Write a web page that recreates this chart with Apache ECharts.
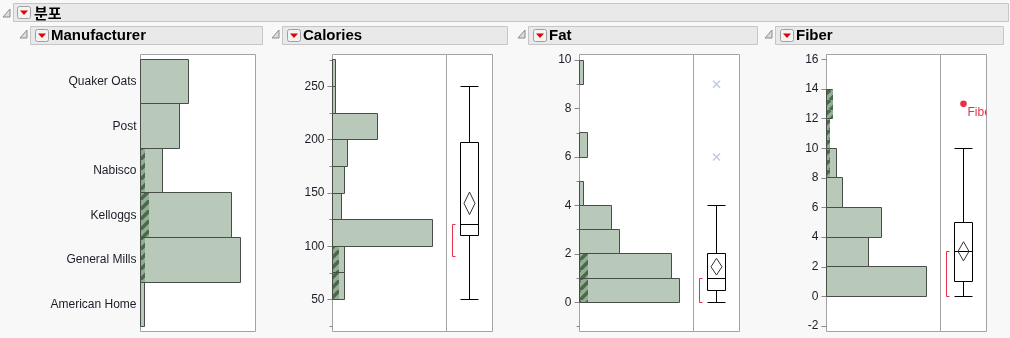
<!DOCTYPE html>
<html><head><meta charset="utf-8">
<script src="https://cdn.jsdelivr.net/npm/echarts@6/dist/echarts.min.js"></script>
<style>html,body{margin:0;padding:0;background:#f8f8f8;}#c{width:1010px;height:338px;}</style>
</head><body><div id="c"></div><script>
// ---------------- data ----------------
const mfrCategories = ['American Home', 'General Mills', 'Kelloggs', 'Nabisco', 'Post', 'Quaker Oats'];
const mfrCounts = [1, 23, 21, 5, 9, 11];
const mfrSelected = [0, 1, 2, 1, 0, 0];

const calBinEdges = [50, 75, 100, 125, 150, 175, 200, 225, 250, 275];
const calCounts = [4, 4, 33, 3, 4, 5, 15, 1, 1];
const calSelected = [2, 2, 0, 0, 0, 0, 0, 0, 0];
const calTicks = [50, 100, 150, 200, 250];
const calMinorTicks = [25, 75, 125, 175, 225, 275];
const calBox = [50, 110, 120, 197, 250];          // min, q1, median, q3, max
const calMeanDiamond = [129.7, 140.3, 150.9];     // lower, mean, upper
const calShortestHalf = [90, 120];
const calOutliers = [];

const fatBinEdges = [0, 1, 2, 3, 4, 5, 6, 7, 8, 9, 10];
const fatCounts = [25, 23, 10, 8, 1, 0, 2, 0, 0, 1];
const fatSelected = [2, 2, 0, 0, 0, 0, 0, 0, 0, 0];
const fatTicks = [0, 2, 4, 6, 8, 10];
const fatMinorTicks = [-1, 1, 3, 5, 7, 9];
const fatBox = [0, 0.5, 1, 2, 4];
const fatMeanDiamond = [1.13, 1.47, 1.82];
const fatShortestHalf = [0, 1];
const fatOutliers = [6, 9];

const fiberBinEdges = [0, 2, 4, 6, 8, 10, 12, 14];
const fiberCounts = [31, 13, 17, 5, 3, 1, 2];
const fiberSelected = [0, 0, 0, 0, 1, 1, 2];
const fiberTicks = [-2, 0, 2, 4, 6, 8, 10, 12, 14, 16];
const fiberBox = [0, 1, 3, 5, 10];
const fiberMeanDiamond = [2.40, 3.04, 3.69];
const fiberShortestHalf = [0, 3];
const fiberOutliers = [13];
const fiberOutlierLabel = 'Fiber';

const mainTitle = '분포';
const panelTitles = ['Manufacturer', 'Calories', 'Fat', 'Fiber'];

// ---------------- style / layout ----------------
const TOP = 54.5, H = 277;
const BAR_FILL = '#b9c9b9', BAR_STROKE = '#474e47', RED = '#e8304a';
const FONT = '"Liberation Sans", Arial, sans-serif';

const stripe = (function () {
  const n = 10;
  const c = document.createElement('canvas');
  c.width = n; c.height = n;
  const g = c.getContext('2d');
  g.fillStyle = '#94ae94'; g.fillRect(0, 0, n, n);
  g.strokeStyle = '#4b694b'; g.lineWidth = 3.6;
  for (const k of [-n, 0, n]) { g.beginPath(); g.moveTo(k, n); g.lineTo(k + n, 0); g.stroke(); }
  return c;
})();

const grids = [
  { left: 140.5, top: TOP, width: 115, height: H },  // 0 mfr
  { left: 332.5, top: TOP, width: 114, height: H },  // 1 cal hist
  { left: 446.5, top: TOP, width: 46, height: H },   // 2 cal box
  { left: 579.5, top: TOP, width: 114, height: H },  // 3 fat hist
  { left: 693.5, top: TOP, width: 46, height: H },   // 4 fat box
  { left: 826.5, top: TOP, width: 114, height: H },  // 5 fiber hist
  { left: 940.5, top: TOP, width: 46, height: H }    // 6 fiber box
].map(g => Object.assign({ show: true, backgroundColor: '#fff', borderColor: '#a3a3a3', borderWidth: 1, containLabel: false }, g));

const BARMAX = 100; // pixel length of the largest bar in each histogram
function xMax(counts, gi) { return Math.max.apply(null, counts) * grids[gi].width / BARMAX; }
const xAxes = [
  { gridIndex: 0, max: xMax(mfrCounts, 0) },
  { gridIndex: 1, max: xMax(calCounts, 1) },
  { gridIndex: 2, max: 1 },
  { gridIndex: 3, max: xMax(fatCounts, 3) },
  { gridIndex: 4, max: 1 },
  { gridIndex: 5, max: xMax(fiberCounts, 5) },
  { gridIndex: 6, max: 1 }
].map(a => Object.assign({ type: 'value', min: 0, show: false, splitLine: { show: false } }, a));

function yAx(gi, min, max, extra) {
  return Object.assign({
    type: 'value', gridIndex: gi, min, max, position: 'left',
    axisLine: { show: false }, splitLine: { show: false },
    axisTick: { show: false }, axisLabel: { show: false }
  }, extra || {});
}
const labelStyle = { show: true, fontFamily: FONT, fontSize: 12, color: '#1c1c28', margin: 8 };
const CAL = [20, 280], FAT = [-1.20, 10.23], FIB = [-2.37, 16.33];
const yAxes = [
  yAx(0, -0.612, 5.612, { axisLabel: Object.assign({}, labelStyle, { margin: 4, customValues: mfrCategories.map((_, i) => i), formatter: v => mfrCategories[Math.round(v)] }) }),
  yAx(1, CAL[0], CAL[1], { axisTick: { show: true, length: 5, customValues: calTicks, lineStyle: { color: '#888' } }, axisLabel: Object.assign({}, labelStyle, { customValues: calTicks }) }),
  yAx(1, CAL[0], CAL[1], { axisTick: { show: true, length: 3, customValues: calMinorTicks, lineStyle: { color: '#888' } } }),
  yAx(2, CAL[0], CAL[1], { show: false }),
  yAx(3, FAT[0], FAT[1], { axisTick: { show: true, length: 5, customValues: fatTicks, lineStyle: { color: '#888' } }, axisLabel: Object.assign({}, labelStyle, { customValues: fatTicks }) }),
  yAx(3, FAT[0], FAT[1], { axisTick: { show: true, length: 3, customValues: fatMinorTicks, lineStyle: { color: '#888' } } }),
  yAx(4, FAT[0], FAT[1], { show: false }),
  yAx(5, FIB[0], FIB[1], { axisTick: { show: true, length: 5, customValues: fiberTicks, lineStyle: { color: '#888' } }, axisLabel: Object.assign({}, labelStyle, { customValues: fiberTicks }) }),
  yAx(6, FIB[0], FIB[1], { show: false })
];

const px = v => Math.floor(v) + 0.5;

function barGroup(L, T, R, B, sel) {
  const ch = [{ type: 'rect', shape: { x: L, y: T, width: R - L, height: B - T }, style: { fill: BAR_FILL, stroke: BAR_STROKE, lineWidth: 1 } }];
  if (sel != null) {
    ch.push({ type: 'rect', shape: { x: L + 0.5, y: T + 0.5, width: Math.max(1, Math.round(sel) - (L + 0.5)), height: B - T - 1 }, style: { fill: { image: stripe, repeat: 'repeat' } } });
  }
  return { type: 'group', children: ch };
}

function mfrSeries() {
  return {
    type: 'custom', xAxisIndex: 0, yAxisIndex: 0,
    data: mfrCounts.map((c, i) => [c, i, mfrSelected[i]]),
    encode: { x: 0, y: 1 },
    renderItem(params, api) {
      const c = api.value(0), i = api.value(1), s = api.value(2);
      const p0 = api.coord([0, i + 0.5]), p1 = api.coord([c, i - 0.5]);
      return barGroup(px(p0[0]), px(p0[1]), px(p1[0]), px(p1[1]), s ? api.coord([s, 0])[0] : null);
    }
  };
}

function histSeries(xi, yi, edges, counts, selected) {
  return {
    type: 'custom', xAxisIndex: xi, yAxisIndex: yi,
    data: counts.map((c, i) => [c, edges[i], edges[i + 1], selected[i]]),
    encode: { x: 0, y: [1, 2] },
    renderItem(params, api) {
      const c = api.value(0); if (!c) return;
      const s = api.value(3);
      const p0 = api.coord([0, api.value(2)]), p1 = api.coord([c, api.value(1)]);
      return barGroup(px(p0[0]), px(p0[1]), px(p1[0]), px(p1[1]), s ? api.coord([s, 0])[0] : null);
    }
  };
}

function boxSeries(xi, yi, box, diamond, shortest, outliers, outlierKind, outlierLabel) {
  return {
    type: 'custom', xAxisIndex: xi, yAxisIndex: yi,
    data: [[0.5, box[2]]],
    encode: { x: 0, y: 1 },
    renderItem(params, api) {
      const cs = params.coordSys;
      const cx = px(api.coord([0.5, 0])[0]);
      const Y = v => px(api.coord([0.5, v])[1]);
      const Yr = v => api.coord([0.5, v])[1];
      const hw = 9;
      const ln = (x1, y1, x2, y2, color, w) => ({ type: 'line', shape: { x1, y1, x2, y2 }, style: { stroke: color || '#000', lineWidth: w || 1 } });
      const [mn, q1, md, q3, mx] = box;
      const ch = [];
      ch.push(ln(cx, Y(mx), cx, Y(q3)));
      ch.push(ln(cx, Y(q1), cx, Y(mn)));
      ch.push(ln(cx - hw, Y(mx), cx + hw, Y(mx)));
      ch.push(ln(cx - hw, Y(mn), cx + hw, Y(mn)));
      ch.push({ type: 'rect', shape: { x: cx - hw, y: Y(q3), width: 2 * hw, height: Y(q1) - Y(q3) }, style: { fill: '#fff', stroke: '#000', lineWidth: 1 } });
      ch.push(ln(cx - hw, Y(md), cx + hw, Y(md)));
      const dt = Yr(diamond[2]), dm = Yr(diamond[1]), db = Yr(diamond[0]);
      ch.push({ type: 'polygon', shape: { points: [[cx, dt], [cx + 5.5, dm], [cx, db], [cx - 5.5, dm]] }, style: { fill: 'none', stroke: '#333', lineWidth: 1 } });
      const bx = px(api.coord([0.14, 0])[0]);
      const b1 = Y(shortest[1]), b0 = Y(shortest[0]);
      ch.push(ln(bx, b1, bx, b0, RED));
      ch.push(ln(bx, b1, bx + 3, b1, RED));
      ch.push(ln(bx, b0, bx + 3, b0, RED));
      outliers.forEach(v => {
        const y = Yr(v);
        if (outlierKind === 'x') {
          ch.push(ln(cx - 3.5, y - 3.5, cx + 3.5, y + 3.5, '#c3cbe0', 1.6));
          ch.push(ln(cx - 3.5, y + 3.5, cx + 3.5, y - 3.5, '#c3cbe0', 1.6));
        } else {
          ch.push({ type: 'circle', shape: { cx: cx, cy: y, r: 3.3 }, style: { fill: RED } });
          if (outlierLabel) ch.push({ type: 'text', x: cx + 4, y: y + 2.5, style: { text: outlierLabel, fill: RED, font: '12px ' + FONT, align: 'left', verticalAlign: 'top' } });
        }
      });
      return { type: 'group', children: ch, clipPath: { type: 'rect', shape: { x: cs.x, y: cs.y, width: cs.width, height: cs.height } } };
    }
  };
}

// ---------------- headers (graphic) ----------------
const graphics = [];
function tri(x, y) { // gray outline disclosure triangle; right angle at bottom-right
  graphics.push({ type: 'polygon', shape: { points: [[x + 7, y], [x + 7, y + 8], [x, y + 8]] }, style: { fill: '#dcdcdc', stroke: '#8c8c8c', lineWidth: 1 } });
}
function redBtn(x, y) {
  graphics.push({ type: 'rect', shape: { x: x + 0.5, y: y + 0.5, width: 13, height: 12, r: 2 }, style: { fill: '#f3f3f3', stroke: '#a0a0a0', lineWidth: 1 } });
  const cx = x + 7, cy = y + 6.5;
  graphics.push({ type: 'polygon', shape: { points: [[cx - 4, cy - 2], [cx + 4, cy - 2], [cx, cy + 2.5]] }, style: { fill: '#e00000' } });
}
// main header
graphics.push({ type: 'rect', shape: { x: 13.5, y: 3.5, width: 995, height: 18 }, style: { fill: '#e9e9e9', stroke: '#c6c6c6', lineWidth: 1 } });
tri(3, 9);
redBtn(17, 6);
graphics.push({ type: 'text', style: { text: mainTitle, x: 34, y: 13, font: 'bold 15px "Noto Sans CJK KR", sans-serif', fill: '#000', verticalAlign: 'middle' } });
const subBoxes = [[30, 262], [282, 507], [528, 757], [775, 1003]];
subBoxes.forEach((b, i) => {
  graphics.push({ type: 'rect', shape: { x: b[0] + 0.5, y: 26.5, width: b[1] - b[0], height: 18 }, style: { fill: '#e9e9e9', stroke: '#c6c6c6', lineWidth: 1 } });
  tri(b[0] - 10, 30);
  redBtn(b[0] + 5, 29);
  graphics.push({ type: 'text', style: { text: panelTitles[i], x: b[0] + 21, y: 36, font: 'bold 15px ' + FONT, fill: '#000', verticalAlign: 'middle' } });
});

const chart = echarts.init(document.getElementById('c'), null, { renderer: 'canvas' });
chart.setOption({
  animation: false,
  backgroundColor: '#f8f8f8',
  grid: grids,
  xAxis: xAxes,
  yAxis: yAxes,
  graphic: { elements: graphics },
  series: [
    mfrSeries(),
    histSeries(1, 1, calBinEdges, calCounts, calSelected),
    boxSeries(2, 3, calBox, calMeanDiamond, calShortestHalf, calOutliers, 'x'),
    histSeries(3, 4, fatBinEdges, fatCounts, fatSelected),
    boxSeries(4, 6, fatBox, fatMeanDiamond, fatShortestHalf, fatOutliers, 'x'),
    histSeries(5, 7, fiberBinEdges, fiberCounts, fiberSelected),
    boxSeries(6, 8, fiberBox, fiberMeanDiamond, fiberShortestHalf, fiberOutliers, 'dot', fiberOutlierLabel)
  ]
});
</script></body></html>
